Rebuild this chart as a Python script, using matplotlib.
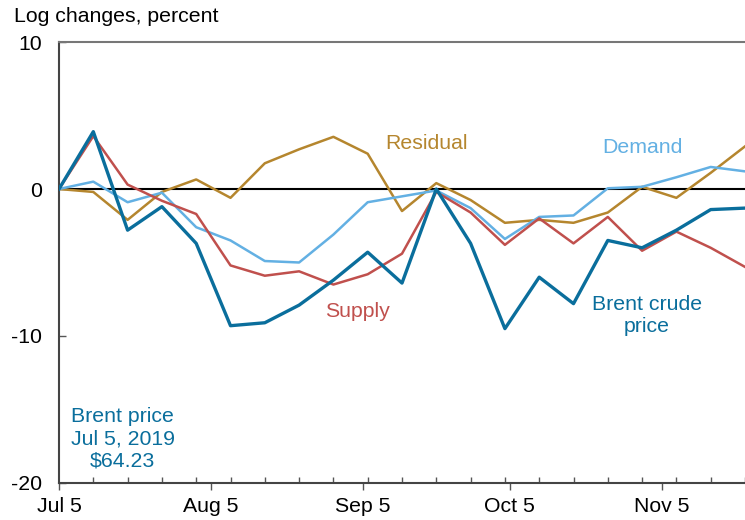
import numpy as np
import pandas as pd
import matplotlib
matplotlib.use('Agg')
import matplotlib.pyplot as plt
import matplotlib.dates as mdates

plt.rcParams['font.family'] = ['Liberation Sans', 'DejaVu Sans']

# weekly observations starting Jul 5, 2019
dates = pd.date_range('2019-07-05', periods=21, freq='7D')

brent = [0, 3.9, -2.8, -1.2, -3.7, -9.3, -9.1, -7.9, -6.2, -4.3, -6.4,
         0.0, -3.7, -9.5, -6.0, -7.8, -3.5, -4.0, -2.8, -1.4, -1.3]
supply = [0, 3.6, 0.3, -0.8, -1.7, -5.2, -5.9, -5.6, -6.5, -5.8, -4.4,
          -0.2, -1.6, -3.8, -2.0, -3.7, -1.9, -4.2, -2.9, -4.0, -5.3]
demand = [0, 0.5, -0.9, -0.25, -2.6, -3.5, -4.9, -5.0, -3.1, -0.9, -0.5,
          -0.1, -1.3, -3.4, -1.9, -1.8, 0.05, 0.15, 0.8, 1.5, 1.2]
residual = [0, -0.2, -2.1, -0.2, 0.65, -0.6, 1.75, 2.7, 3.55, 2.4, -1.5,
            0.4, -0.75, -2.3, -2.1, -2.3, -1.6, 0.15, -0.6, 1.1, 2.9]

c_brent = '#0A6E9C'
c_supply = '#C0504D'
c_demand = '#63B0E3'
c_resid = '#B5862E'
fs = 15.3

fig = plt.figure(figsize=(7.45, 5.2), dpi=100)
ax = fig.add_axes([0.0792, 0.0712, 0.9208, 0.848])

ax.axhline(0, color='black', lw=1.5, zorder=1)
ax.plot(dates, residual, color=c_resid, lw=1.8, zorder=2)
ax.plot(dates, demand, color=c_demand, lw=1.8, zorder=3)
ax.plot(dates, supply, color=c_supply, lw=1.8, zorder=4)
ax.plot(dates, brent, color=c_brent, lw=2.4, zorder=5)

ax.set_xlim(dates[0], dates[-1])
ax.set_ylim(-20, 10)
ax.set_yticks([-20, -10, 0, 10])
ax.set_yticklabels(['-20', '-10', '0', '10'])

major = pd.to_datetime(['2019-07-05', '2019-08-05', '2019-09-05',
                        '2019-10-05', '2019-11-05'])
ax.set_xticks(major)
ax.set_xticklabels(['Jul 5', 'Aug 5', 'Sep 5', 'Oct 5', 'Nov 5'])
ax.set_xticks(dates, minor=True)

ax.tick_params(axis='x', which='major', direction='out', length=5,
               width=1, color='#555555', labelsize=fs, pad=5)
ax.tick_params(axis='x', which='minor', direction='in', length=4,
               width=1, color='#555555')
ax.tick_params(axis='y', direction='in', length=5, width=1,
               color='#555555', labelsize=fs, pad=12)

for s in ['left', 'bottom', 'top']:
    ax.spines[s].set_color('#444444')
    ax.spines[s].set_linewidth(1.5)
ax.spines['top'].set_color('#777777')
ax.spines['right'].set_visible(False)

fig.text(0.019, 0.968, 'Log changes, percent', fontsize=fs,
         ha='left', va='center')

ax.text(pd.Timestamp('2019-09-18'), 3.1, 'Residual', color=c_resid,
        fontsize=fs, ha='center', va='center')
ax.text(pd.Timestamp('2019-11-01'), 2.8, 'Demand', color=c_demand,
        fontsize=fs, ha='center', va='center')
ax.text(pd.Timestamp('2019-09-04'), -8.3, 'Supply', color=c_supply,
        fontsize=fs, ha='center', va='center')
ax.text(pd.Timestamp('2019-11-02'), -8.6, 'Brent crude\nprice', color=c_brent,
        fontsize=fs, ha='center', va='center', linespacing=1.2)
ax.text(pd.Timestamp('2019-07-18'), -17.0, 'Brent price\nJul 5, 2019\n$64.23',
        color=c_brent, fontsize=fs, ha='center', va='center',
        linespacing=1.2)

fig.savefig('out.png', dpi=100)
